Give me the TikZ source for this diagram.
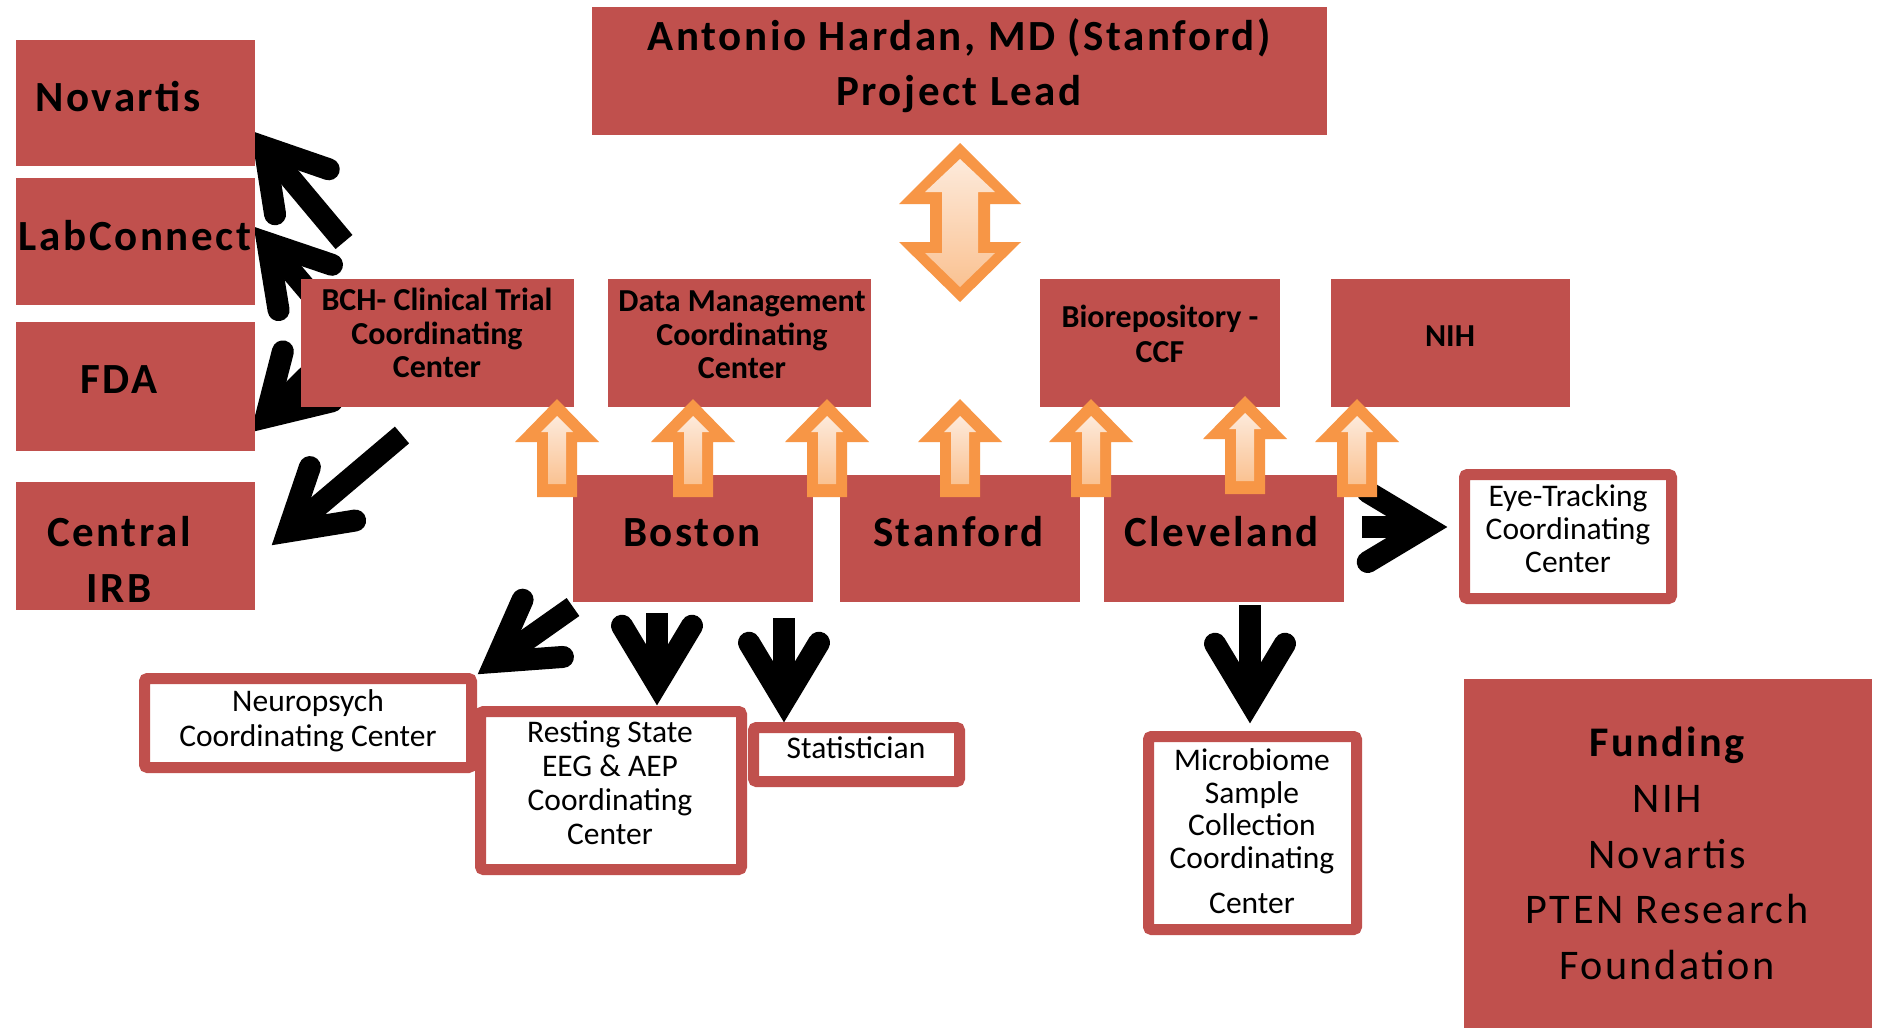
\documentclass[tikz,border=0pt]{standalone}
\usepackage{fontspec}
\setmainfont{Carlito}
\newfontfamily\spc{Carlito}[LetterSpace=6]
\usetikzlibrary{calc}
\definecolor{boxred}{HTML}{C0504D}
\definecolor{orng}{HTML}{F79646}
\definecolor{peachA}{HTML}{FDEADB}
\definecolor{peachB}{HTML}{FAC292}
\newcommand\blkarrow[2]{%
  \coordinate (#2v) at ($(#2)!21pt!(#1)$);
  \draw[blkshaft] (#1) -- (#2v);
  \draw[blkbarb] ($(#2v)!68pt!31:(#1)$) -- (#2v) -- ($(#2v)!68pt!-31:(#1)$);
}
\tikzset{
  redbox/.style={fill=boxred, draw=none, inner sep=0pt, outer sep=0pt},
  whitebox/.style={draw=boxred, line width=11pt, fill=white, rounded corners=3pt, inner sep=0pt},
  bigtxt/.style={font=\spc\bfseries\fontsize{43}{55}\selectfont, align=center, inner sep=0pt},
  bigreg/.style={font=\spc\fontsize{42.2}{55.75}\selectfont, align=center, inner sep=0pt},
  smalltxt/.style={font=\bfseries\fontsize{32}{33.5}\selectfont, align=center, inner sep=0pt},
  plaintxt/.style={font=\fontsize{31.5}{33}\selectfont, align=center, inner sep=0pt},
  blkshaft/.style={draw=black, line width=22pt, line cap=butt},
  blkbarb/.style={draw=black, line width=22pt, line cap=round, line join=miter},
  uparr/.pic={
    \fill[orng] (0,0) -- (42,43) -- (20,43) -- (20,98) -- (-20,98) -- (-20,43) -- (-42,43) -- cycle;
    \shade[top color=peachA, bottom color=peachB] (0,17) -- (16,33) -- (9,33) -- (9,85) -- (-9,85) -- (-9,33) -- (-16,33) -- cycle;
  },
}
\begin{document}
\begin{tikzpicture}[x=1pt,y=-1pt]
\fill[white] (0,0) rectangle (1878,1028);
\useasboundingbox (0,0) rectangle (1878,1028);

% black arrows (under the boxes)
\coordinate (a1t) at (344,242); \coordinate (a1p) at (251,131);
\coordinate (a2t) at (310,293); \coordinate (a2p) at (254,227);
\coordinate (a3t) at (322,362); \coordinate (a3p) at (251,432);
\coordinate (a4t) at (402,435); \coordinate (a4p) at (272,545);
\coordinate (a5t) at (573,607); \coordinate (a5p) at (478,674);
\coordinate (a6t) at (657,613); \coordinate (a6p) at (657,705);
\coordinate (a7t) at (784,618); \coordinate (a7p) at (784,722);
\coordinate (a8t) at (1250,605); \coordinate (a8p) at (1250,723);
\coordinate (a9t) at (1362,527); \coordinate (a9p) at (1447,527);
\blkarrow{a1t}{a1p}
\blkarrow{a2t}{a2p}
\blkarrow{a3t}{a3p}
\blkarrow{a4t}{a4p}
\blkarrow{a5t}{a5p}
\blkarrow{a6t}{a6p}
\blkarrow{a7t}{a7p}
\blkarrow{a8t}{a8p}
\blkarrow{a9t}{a9p}

% red boxes
\node[redbox, minimum width=735pt, minimum height=128pt] (lead) at (959.5,71) {};
\node[redbox, minimum width=239pt, minimum height=126pt] (novartis) at (135.5,103) {};
\node[redbox, minimum width=239pt, minimum height=127pt] (labconnect) at (135.5,241.5) {};
\node[redbox, minimum width=239pt, minimum height=129pt] (fda) at (135.5,386.5) {};
\node[redbox, minimum width=239pt, minimum height=128pt] (irb) at (135.5,546) {};
\node[redbox, minimum width=273pt, minimum height=128pt] (bch) at (437.5,343) {};
\node[redbox, minimum width=263pt, minimum height=128pt] (dm) at (739.5,343) {};
\node[redbox, minimum width=240pt, minimum height=128pt] (bio) at (1160,343) {};
\node[redbox, minimum width=239pt, minimum height=128pt] (nih) at (1450.5,343) {};
\node[redbox, minimum width=240pt, minimum height=127pt] (boston) at (693,538.5) {};
\node[redbox, minimum width=240pt, minimum height=127pt] (stanford) at (960,538.5) {};
\node[redbox, minimum width=240pt, minimum height=127pt] (cleveland) at (1224,538.5) {};
\node[redbox, minimum width=408pt, minimum height=349pt] (funding) at (1668,853.5) {};

% white boxes
\node[whitebox, minimum width=327pt, minimum height=89pt] (neuro) at (308,723) {};
\node[whitebox, minimum width=261pt, minimum height=158pt] (rest) at (611,790.5) {};
\node[whitebox, minimum width=206pt, minimum height=54pt] (stat) at (856.5,754.5) {};
\node[whitebox, minimum width=207pt, minimum height=124pt] (eye) at (1568,536.5) {};
\node[whitebox, minimum width=208pt, minimum height=193pt] (micro) at (1252.5,833) {};

% texts
\node[bigtxt] (leadt) at (959,66) {Antonio Hardan, MD (Stanford)\\Project Lead};
\node[bigtxt, anchor=base] (novt) at (118,111) {Novartis};
\node[bigtxt, anchor=base] (labt) at (135,250) {LabConnect};
\node[bigtxt, anchor=base] (fdat) at (119,393) {FDA};
\node[bigtxt, font=\spc\bfseries\fontsize{43}{56}\selectfont] (irbt) at (119,559) {Central\\IRB};
\node[smalltxt] (bcht) at (437,333) {BCH- Clinical Trial\\Coordinating\\Center};
\node[smalltxt] (dmt) at (742,335) {Data Management\\Coordinating\\Center};
\node[smalltxt, font=\bfseries\fontsize{32}{35}\selectfont] (biot) at (1160,334) {Biorepository -\\CCF};
\node[smalltxt, anchor=base] (niht) at (1450,346) {NIH};
\node[bigtxt, anchor=base] (bost) at (692,546) {Boston};
\node[bigtxt, anchor=base] (stant) at (958.5,546) {Stanford};
\node[bigtxt, anchor=base] (clevt) at (1221.5,546) {Cleveland};
\node[bigreg] (fundt) at (1667,853.5) {{\bfseries Funding}\\NIH\\Novartis\\PTEN Research\\Foundation};
\node[plaintxt, font=\fontsize{31.5}{35}\selectfont] (neut) at (308,721) {Neuropsych\\Coordinating Center};
\node[plaintxt, font=\fontsize{31.5}{34}\selectfont] (restt) at (610,782.5) {Resting State\\EEG \& AEP\\Coordinating\\Center};
\node[plaintxt, anchor=base] (statt) at (856,758) {Statistician};
\node[plaintxt] (eyet) at (1568,529) {Eye-Tracking\\Coordinating\\Center};
\node[plaintxt, font=\fontsize{31.5}{32.5}\selectfont] (microt) at (1252,831.5) {Microbiome\\Sample\\Collection\\Coordinating\\[13pt]Center};

% orange up arrows
\pic (u1) at (557,399) {uparr};
\pic (u2) at (693,399) {uparr};
\pic (u3) at (827,399) {uparr};
\pic (u4) at (960,399) {uparr};
\pic (u5) at (1091,399) {uparr};
\pic (u6) at (1245,396) {uparr};
\pic (u7) at (1357,399) {uparr};

% orange double arrow
\fill[orng] (960,143) -- (1021,204) -- (990,204) -- (990,242) -- (1021,242) -- (960,302) -- (899,242) -- (930,242) -- (930,204) -- (899,204) -- cycle;
\shade[top color=peachA, bottom color=peachB] (960,159) -- (995,192) -- (978,192) -- (978,253) -- (995,253) -- (960,287) -- (925,253) -- (942,253) -- (942,192) -- (925,192) -- cycle;
\end{tikzpicture}
\end{document}
